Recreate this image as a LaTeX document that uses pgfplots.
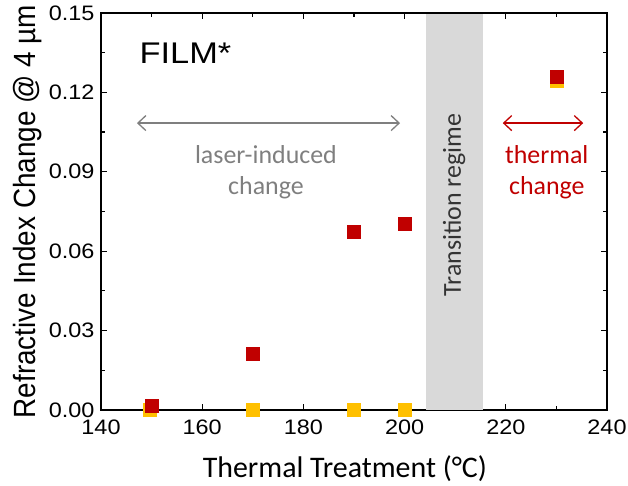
\documentclass[border=0pt]{standalone}
\usepackage{fontspec}
\setmainfont{Liberation Sans}
\newfontfamily\calibri{Carlito}
\usepackage{graphicx}
\usepackage{pgfplots}
\pgfplotsset{compat=1.18}
\usetikzlibrary{arrows.meta}
\definecolor{ored}{HTML}{C00000}
\definecolor{oyellow}{HTML}{FFC000}
\definecolor{bandgray}{HTML}{D9D9D9}
\definecolor{arrowgray}{HTML}{7F7F7F}
\definecolor{darktext}{HTML}{333333}
% slightly widened glyphs for horizontal text
\newcommand{\wide}[1]{\scalebox{1.12}[1]{#1}}

\begin{document}
\begin{tikzpicture}[x=1bp,y=1bp]
\path[use as bounding box] (0,0) rectangle (628,486);
\begin{axis}[
  at={(101bp,76bp)}, anchor=south west,
  scale only axis, width=506bp, height=397bp,
  xmin=140, xmax=240, ymin=0, ymax=0.15,
  xtick={140,160,180,200,220,240}, minor x tick num=1,
  ytick={0,0.03,0.06,0.09,0.12,0.15}, minor y tick num=1,
  tick align=inside, major tick length=6bp, minor tick length=4bp,
  axis line style={line width=1.6bp},
  every tick/.style={black, line width=1.2bp},
  /pgf/number format/assume math mode=true,
  ticklabel style={font=\fontsize{21}{21}\selectfont},
  xticklabel={\wide{\pgfmathprintnumber{\tick}}},
  yticklabel={\wide{\pgfmathprintnumber[fixed,fixed zerofill,precision=2]{\tick}}},
  yticklabel style={xshift=-3bp},
  xticklabel style={yshift=-6bp},
  xlabel={\calibri Thermal Treatment (°C)},
  ylabel={\scalebox{1}[1.1]{Refractive Index Change @ 4 µm}},
  xlabel style={at={(axis description cs:0.482,-0.1688)}, anchor=base,
    font=\fontsize{30}{30}\selectfont},
  ylabel style={at={(axis description cs:-0.146,0.5)}, anchor=center,
    font=\fontsize{28}{28}\selectfont},
  clip=false,
]
% transition regime band
\addplot[draw=none, fill=bandgray] coordinates
  {(204.2,0) (215.4,0) (215.4,0.1495) (204.2,0.1495)} -- cycle;

% measured index change, two series
\addplot[only marks, mark=square*, mark size=6.5bp,
  mark options={fill=oyellow, draw=oyellow}] coordinates {
  (149.7,0) (170,0) (190,0) (200,0) (230,0.1243)};
\addplot[only marks, mark=square*, mark size=6.5bp,
  mark options={fill=ored, draw=ored}] coordinates {
  (150,0.0017) (170,0.0212) (190,0.0673) (200,0.0703) (230,0.1258)};

% annotations
\node[anchor=base west, inner sep=0pt, font=\fontsize{30}{30}\selectfont]
  at (axis cs:147.6,0.1311) {\scalebox{1.15}[1]{FILM*}};
\draw[arrowgray, line width=1.3bp,
  {Straight Barb[length=8bp,width=15bp]}-{Straight Barb[length=8bp,width=15bp]}]
  (axis cs:147.1,0.1084) -- (axis cs:199.1,0.1084);
\node[arrowgray, anchor=base, inner sep=0pt, font=\calibri\fontsize{26}{26}\selectfont]
  at (axis cs:172.6,0.0933) {laser-induced};
\node[arrowgray, anchor=base, inner sep=0pt, font=\calibri\fontsize{26}{26}\selectfont]
  at (axis cs:172.6,0.0816) {change};
\draw[ored, line width=1.3bp,
  {Straight Barb[length=8bp,width=15bp]}-{Straight Barb[length=8bp,width=15bp]}]
  (axis cs:219.4,0.1084) -- (axis cs:235.3,0.1084);
\node[ored, anchor=base, inner sep=0pt, font=\calibri\fontsize{26}{26}\selectfont]
  at (axis cs:228.1,0.0933) {thermal};
\node[ored, anchor=base, inner sep=0pt, font=\calibri\fontsize{26}{26}\selectfont]
  at (axis cs:228.1,0.0816) {change};
\node[rotate=90, text=darktext, font=\calibri\fontsize{26}{26}\selectfont]
  at (axis cs:209.8,0.0775) {Transition regime};
\end{axis}
\end{tikzpicture}
\end{document}
